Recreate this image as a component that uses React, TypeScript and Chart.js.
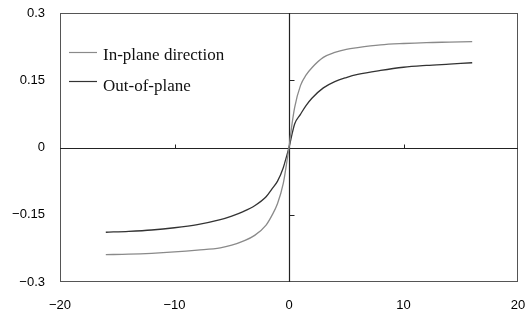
import React, { useEffect, useRef } from "react";
import { Chart, registerables } from "chart.js";

Chart.register(...registerables);

const xValues = [-16, -14, -12, -10, -8, -6, -5, -4, -3, -2, -1.5, -1, -0.5, -0.25, 0, 0.25, 0.5, 1, 1.5, 2, 3, 4, 5, 6, 8, 10, 12, 14, 16];
const inPlane = [-0.239, -0.238, -0.236, -0.233, -0.229, -0.224, -0.218, -0.209, -0.196, -0.173, -0.152, -0.125, -0.08, -0.042, 0, 0.05, 0.09, 0.138, 0.162, 0.178, 0.201, 0.212, 0.219, 0.223, 0.229, 0.232, 0.234, 0.235, 0.236];
const outOfPlane = [-0.189, -0.187, -0.184, -0.179, -0.172, -0.161, -0.153, -0.143, -0.13, -0.11, -0.093, -0.075, -0.045, -0.023, 0, 0.028, 0.053, 0.074, 0.094, 0.11, 0.133, 0.147, 0.156, 0.163, 0.172, 0.179, 0.183, 0.186, 0.189];
const seriesLabels = ["In-plane direction", "Out-of-plane"];
const seriesColors = ["#8a8a8a", "#333333"];
const xTicks = [-20, -10, 0, 10, 20];
const yTicks = [-0.3, -0.15, 0, 0.15, 0.3];

const fmt = (v: number) => {
  const s = String(Number(Math.abs(v).toFixed(2)));
  return v < 0 ? "\u2212" + s : s;
};

const zeroPad = (s: any) => {
  s.paddingTop = 0;
  s.paddingBottom = 0;
  s.paddingLeft = 0;
  s.paddingRight = 0;
};

const framePlugin = {
  id: "frame",
  beforeDatasetsDraw(chart: any) {
    const { ctx, chartArea: a, scales } = chart;
    const xs = scales.x, ys = scales.y;
    const x0 = Math.round(xs.getPixelForValue(0)) + 0.5;
    const y0 = Math.round(ys.getPixelForValue(0)) + 0.5;
    ctx.save();
    ctx.strokeStyle = "#555";
    ctx.lineWidth = 1;
    ctx.strokeRect(a.left + 0.5, a.top + 0.5, a.right - a.left - 1, a.bottom - a.top - 1);
    ctx.strokeStyle = "#222";
    ctx.lineWidth = 1.2;
    ctx.beginPath();
    ctx.moveTo(a.left, y0);
    ctx.lineTo(a.right, y0);
    ctx.moveTo(x0, a.top);
    ctx.lineTo(x0, a.bottom);
    ctx.stroke();
    ctx.lineWidth = 1;
    ctx.beginPath();
    for (const t of xTicks) {
      if (t === 0 || t === xTicks[0] || t === xTicks[xTicks.length - 1]) continue;
      const px = Math.round(xs.getPixelForValue(t)) + 0.5;
      ctx.moveTo(px, y0);
      ctx.lineTo(px, y0 - 4);
    }
    for (const t of yTicks) {
      if (t === 0 || t === yTicks[0] || t === yTicks[yTicks.length - 1]) continue;
      const py = Math.round(ys.getPixelForValue(t)) + 0.5;
      ctx.moveTo(x0, py);
      ctx.lineTo(x0 + 5, py);
    }
    ctx.stroke();
    ctx.restore();
  },
  afterDraw(chart: any) {
    const { ctx, chartArea: a } = chart;
    ctx.save();
    ctx.font = '17px "Liberation Serif"';
    ctx.textBaseline = "alphabetic";
    ctx.fillStyle = "#111";
    const rows = [
      { ly: 52.5, ty: 60 },
      { ly: 81.5, ty: 90.5 },
    ];
    seriesLabels.forEach((lab, i) => {
      ctx.strokeStyle = seriesColors[i];
      ctx.lineWidth = 1.2;
      ctx.beginPath();
      ctx.moveTo(a.left + 9, rows[i].ly);
      ctx.lineTo(a.left + 37, rows[i].ly);
      ctx.stroke();
      ctx.fillText(lab, a.left + 43, rows[i].ty);
    });
    ctx.restore();
  },
};

export default function App() {
  const ref = useRef<HTMLCanvasElement | null>(null);
  useEffect(() => {
    document.body.style.margin = "0";
    const canvas = ref.current!;
    const mk = (ys: number[]) => xValues.map((x, i) => ({ x, y: ys[i] }));
    const chart = new Chart(canvas, {
      type: "line",
      data: {
        datasets: [
          { label: seriesLabels[0], data: mk(inPlane), borderColor: seriesColors[0], borderWidth: 1.3, pointRadius: 0, cubicInterpolationMode: "monotone", fill: false },
          { label: seriesLabels[1], data: mk(outOfPlane), borderColor: seriesColors[1], borderWidth: 1.3, pointRadius: 0, cubicInterpolationMode: "monotone", fill: false },
        ],
      },
      options: {
        animation: false,
        responsive: false,
        layout: { padding: { top: 13, right: 9, left: 0, bottom: 0 } },
        plugins: { legend: { display: false }, tooltip: { enabled: false } },
        scales: {
          x: {
            type: "linear",
            min: -20,
            max: 20,
            afterBuildTicks: (s: any) => { s.ticks = xTicks.map((v) => ({ value: v })); },
            afterFit: (s: any) => { s.height = 38; zeroPad(s); },
            grid: { display: false, drawTicks: false },
            border: { display: false },
            ticks: { callback: (v: any) => fmt(Number(v)), color: "#000", font: { family: "Liberation Sans", size: 13 }, padding: 16, maxRotation: 0 },
          },
          y: {
            type: "linear",
            min: -0.3,
            max: 0.3,
            afterBuildTicks: (s: any) => { s.ticks = yTicks.map((v) => ({ value: v })); },
            afterFit: (s: any) => { s.width = 60; zeroPad(s); },
            grid: { display: false, drawTicks: false },
            border: { display: false },
            ticks: { callback: (v: any) => fmt(Number(v)), color: "#000", font: { family: "Liberation Sans", size: 13 }, padding: 15 },
          },
        },
      },
      plugins: [framePlugin],
    } as any);
    return () => chart.destroy();
  }, []);
  return (
    <div style={{ width: 527, height: 320, background: "#fff" }}>
      <canvas ref={ref} width={527} height={320} />
    </div>
  );
}
